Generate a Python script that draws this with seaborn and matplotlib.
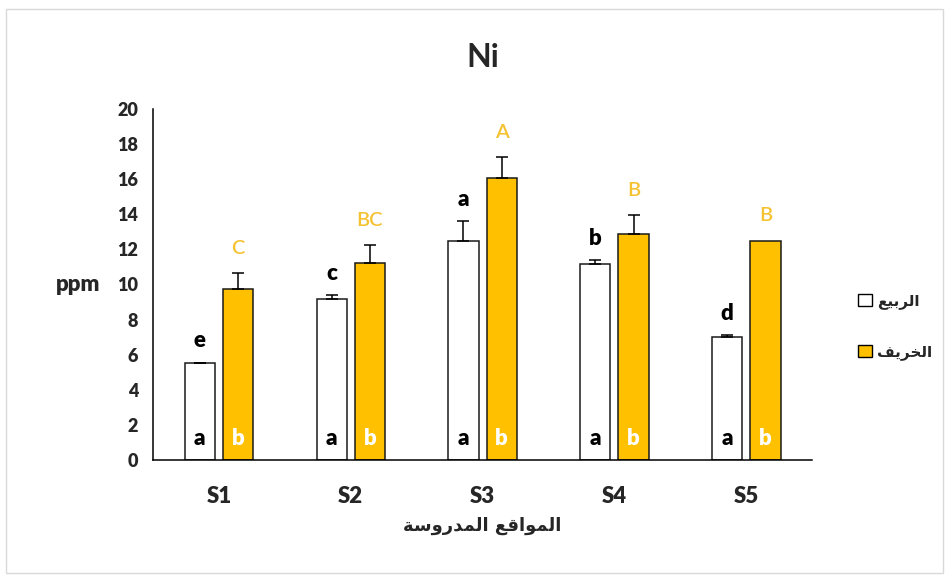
import numpy as np
import pandas as pd
import matplotlib
matplotlib.use("Agg")
import matplotlib.pyplot as plt
from matplotlib.patches import Patch, Rectangle
from matplotlib.container import BarContainer
import seaborn as sns

# ---- data -------------------------------------------------------------
sites = ["S1", "S2", "S3", "S4", "S5"]
spring_mean = [5.5, 9.15, 12.5, 11.15, 7.0]
spring_err = [0.05, 0.25, 1.1, 0.25, 0.1]
autumn_mean = [9.75, 11.2, 16.05, 12.9, 12.5]
autumn_err = [0.9, 1.05, 1.2, 1.05, 0.0]
spring_site_letters = ["e", "c", "a", "b", "d"]
autumn_site_letters = ["C", "BC", "A", "B", "B"]
spring_season_letters = ["a", "a", "a", "a", "a"]
autumn_season_letters = ["b", "b", "b", "b", "b"]
season_names = ["الربيع", "الخريف"]
x_title = "المواقع المدروسة"
y_title = "ppm"
chart_title = "Ni"
y_ticks = [0, 2, 4, 6, 8, 10, 12, 14, 16, 18, 20]

# ---- minimal Arabic shaping (presentation forms + RTL order) ----------
_FORMS = {
    "ا": ("\uFE8D", "\uFE8E", None, None),
    "ب": ("\uFE8F", "\uFE90", "\uFE91", "\uFE92"),
    "ة": ("\uFE93", "\uFE94", None, None),
    "خ": ("\uFEA5", "\uFEA6", "\uFEA7", "\uFEA8"),
    "د": ("\uFEA9", "\uFEAA", None, None),
    "ر": ("\uFEAD", "\uFEAE", None, None),
    "س": ("\uFEB1", "\uFEB2", "\uFEB3", "\uFEB4"),
    "ع": ("\uFEC9", "\uFECA", "\uFECB", "\uFECC"),
    "ف": ("\uFED1", "\uFED2", "\uFED3", "\uFED4"),
    "ق": ("\uFED5", "\uFED6", "\uFED7", "\uFED8"),
    "ل": ("\uFEDD", "\uFEDE", "\uFEDF", "\uFEE0"),
    "م": ("\uFEE1", "\uFEE2", "\uFEE3", "\uFEE4"),
    "و": ("\uFEED", "\uFEEE", None, None),
    "ي": ("\uFEF1", "\uFEF2", "\uFEF3", "\uFEF4"),
}


def ar(text):
    out = []
    n = len(text)
    for i, ch in enumerate(text):
        if ch not in _FORMS:
            out.append(ch)
            continue
        prev = text[i - 1] if i > 0 else None
        nxt = text[i + 1] if i < n - 1 else None
        join_prev = prev in _FORMS and _FORMS[prev][2] is not None
        join_next = nxt in _FORMS and _FORMS[ch][2] is not None
        iso, fin, ini, med = _FORMS[ch]
        if join_prev and join_next:
            out.append(med)
        elif join_prev:
            out.append(fin)
        elif join_next:
            out.append(ini)
        else:
            out.append(iso)
    return "".join(out)[::-1]


# ---- style --------------------------------------------------------------
sns.set_style("white")
plt.rcParams["font.family"] = ["Lato", "DejaVu Sans"]
AR_FONT = ["DejaVu Sans"]
GOLD = "#FFC000"
LETTER_GOLD = "#F5C231"

df = pd.DataFrame({
    "site": sites * 2,
    "season": [season_names[0]] * len(sites) + [season_names[1]] * len(sites),
    "value": spring_mean + autumn_mean,
})

fig = plt.figure(figsize=(9.5, 5.76), dpi=100)
ax = fig.add_axes([0.161, 0.2014, 0.694, 0.6094])

sns.barplot(
    data=df, x="site", y="value", hue="season",
    order=sites, hue_order=season_names,
    palette=["white", GOLD], saturation=1, edgecolor="#1a1a1a",
    linewidth=1.1, width=0.58, gap=0.21, errorbar=None, legend=False, ax=ax,
)

means = [spring_mean, autumn_mean]
errs = [spring_err, autumn_err]
top_letters = [spring_site_letters, autumn_site_letters]
base_letters = [spring_season_letters, autumn_season_letters]
top_colors = ["black", LETTER_GOLD]
top_weights = ["heavy", "semibold"]
top_sizes = [16, 14.5]
top_offsets = [11, 14]
base_colors = ["black", "white"]

bar_groups = [c for c in ax.containers if isinstance(c, BarContainer)]
for k, cont in enumerate(bar_groups):
    xs = np.array([p.get_x() + p.get_width() / 2 for p in cont.patches])
    m = np.array(means[k])
    e = np.array(errs[k])
    has_err = e > 0
    ax.errorbar(xs[has_err], m[has_err],
                yerr=[np.zeros(has_err.sum()), e[has_err]], fmt="none",
                ecolor="black", elinewidth=1.1, capsize=4.6, capthick=1.1,
                zorder=3)
    for x, v, er, t, b in zip(xs, m, e, top_letters[k], base_letters[k]):
        ax.annotate(t, (x, v + er), xytext=(0, top_offsets[k]),
                    textcoords="offset points", ha="center", va="baseline",
                    fontsize=top_sizes[k], fontweight=top_weights[k],
                    color=top_colors[k])
        ax.annotate(b, (x, 0), xytext=(0, 11), textcoords="offset points",
                    ha="center", va="baseline", fontsize=16,
                    fontweight="heavy", color=base_colors[k], zorder=4)

# ---- axes -----------------------------------------------------------------
ax.set_xlim(-0.5, len(sites) - 0.5)
ax.set_ylim(0, 20)
ax.set_yticks(y_ticks)
ax.set_yticklabels([str(t) for t in y_ticks], fontsize=13, fontweight="heavy")
ax.set_xticks(range(len(sites)))
ax.set_xticklabels(sites, fontsize=16, fontweight="heavy")
ax.set_xticks(np.arange(len(sites) + 1) - 0.5, minor=True)
ax.tick_params(axis="x", which="major", length=0, pad=19)
ax.tick_params(axis="x", which="minor", length=5, width=1.1, direction="out",
               color="black")
ax.tick_params(axis="y", length=4.5, width=1.1, direction="out", color="black",
               pad=6)
for s in ("top", "right"):
    ax.spines[s].set_visible(False)
for s in ("left", "bottom"):
    ax.spines[s].set_color("black")
    ax.spines[s].set_linewidth(1.1)

ax.set_xlabel(ar(x_title), family=AR_FONT, fontsize=13, fontweight="bold",
              labelpad=7)
ax.set_ylabel(y_title, fontsize=16, fontweight="heavy", rotation=0,
              ha="right", va="center", labelpad=12)
ax.set_title(chart_title, fontsize=23, fontweight="bold", pad=30)

handles = [Patch(facecolor=c, edgecolor="black", linewidth=1.0)
           for c in ["white", GOLD]]
leg = fig.legend(handles, [ar(n) for n in season_names],
                 loc="center left", bbox_to_anchor=(0.889, 0.433),
                 frameon=False, handlelength=0.9, handleheight=0.9,
                 handletextpad=0.3, labelspacing=2.3,
                 prop={"family": AR_FONT, "weight": "bold", "size": 11})

# light frame around the whole chart
fig.add_artist(Rectangle((6 / 950, 3 / 576), 937 / 950, 564 / 576,
                         transform=fig.transFigure, fill=False,
                         edgecolor="#d9d9d9", linewidth=1.0))

fig.savefig("out.png", dpi=100)
